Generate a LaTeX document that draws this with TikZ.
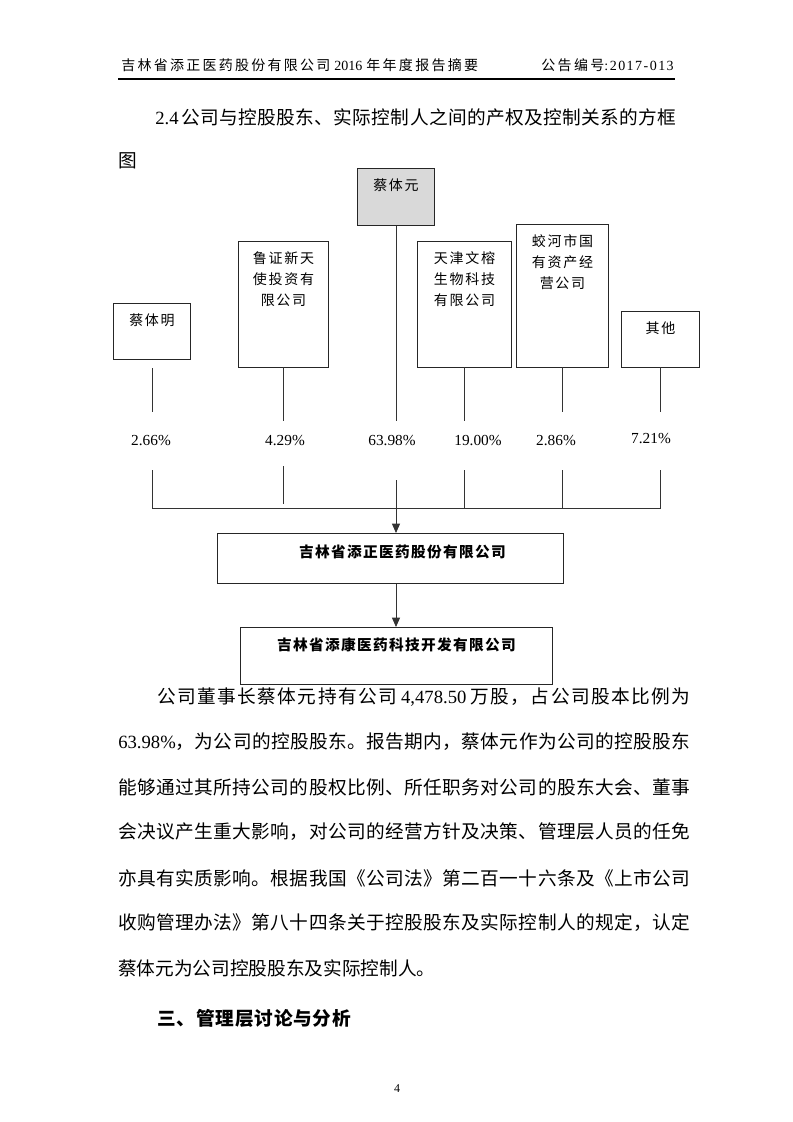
\documentclass[tikz,border=0pt]{standalone}
\usepackage{fontspec}
\setmainfont{Noto Sans CJK SC}
\newfontfamily\lat{Liberation Serif}
\usetikzlibrary{positioning,arrows.meta}

% spacing between CJK characters
\newskip\cgap
\makeatletter
\newcommand{\spc}[1]{\spc@#1\@nil}
\def\spc@#1#2\@nil{#1\if\relax\detokenize{#2}\relax\else\hskip\cgap\spc@#2\@nil\fi}
\makeatother
\newcommand{\jline}[2]{\makebox[#1][s]{\cgap=0pt plus 1fil\relax #2}}
\def\px{0.75pt}

\begin{document}
\begin{tikzpicture}[x=0.75pt,y=-0.75pt,
  holder/.style={draw=black!85, line width=0.75pt, inner sep=0pt, anchor=north west},
  boxtext/.style={inner sep=0pt, align=center, font={\fontsize{10.5}{15.75}\selectfont\cgap=1.3pt}},
  share/.style={inner sep=0pt, font={\lat\fontsize{11.5}{13}\selectfont}},
  firmtext/.style={inner sep=0pt, font={\bfseries\fontsize{11}{13}\selectfont\cgap=1pt}},
  para/.style={anchor=west, inner sep=0pt, font={\fontsize{14}{21}\selectfont\cgap=0.3pt}},
  link/.style={draw=black!80, line width=0.6pt}]
\fill[white] (0,0) rectangle (793,1122);
\useasboundingbox (0,0) rectangle (793,1122);

% header
\node[anchor=west, inner sep=0pt, font={\fontsize{10.5}{12}\selectfont\cgap=1.7pt}] (h_l) at (121,65)
  {\spc{吉林省添正医药股份有限公司}\hspace{3pt}{\lat 2016}\hspace{3pt}\spc{年年度报告摘要}};
\node[anchor=east, inner sep=0pt, font={\fontsize{10.5}{12}\selectfont\cgap=1.8pt}] (h_r) at (674,65)
  {\spc{公告编号}{\lat\cgap=1.1pt\spc{:2017-013}}};
\draw[line width=0.9pt] (118,79) -- (675,79);

\node[para] (t_0) at (155,117) {{\lat 2.4}\hspace{2pt}\spc{公司与控股股东、实际控制人之间的产权及控制关系的方框}};
\node[para] (t_1) at (118,161) {图};

% shareholders
\node[holder, minimum width=77*\px, minimum height=56*\px] (s_1) at (113,303) {};
\node[holder, minimum width=90*\px, minimum height=126*\px] (s_2) at (238,241) {};
\node[holder, minimum width=77*\px, minimum height=57*\px, fill=black!15] (s_3) at (357,168) {};
\node[holder, minimum width=94*\px, minimum height=126*\px] (s_4) at (417,241) {};
\node[holder, minimum width=92*\px, minimum height=143*\px] (s_5) at (516,224) {};
\node[holder, minimum width=78*\px, minimum height=56*\px] (s_6) at (621,311) {};

\node[boxtext, below=8pt of s_1.north] (n_1) {\spc{蔡体明}};
\node[boxtext, below=8pt of s_2.north] (n_2) {\spc{鲁证新天}\\\spc{使投资有}\\\spc{限公司}};
\node[boxtext, below=8pt of s_3.north] (n_3) {\spc{蔡体元}};
\node[boxtext, below=8pt of s_4.north] (n_4) {\spc{天津文榕}\\\spc{生物科技}\\\spc{有限公司}};
\node[boxtext, below=8pt of s_5.north] (n_5) {\spc{蛟河市国}\\\spc{有资产经}\\\spc{营公司}};
\node[boxtext, below=8pt of s_6.north] (n_6) {\spc{其他}};

% shares
\node[share] (p_1) at (151,441) {2.66\%};
\node[share] (p_2) at (285,441) {4.29\%};
\node[share] (p_3) at (392,441) {63.98\%};
\node[share] (p_4) at (478,441) {19.00\%};
\node[share] (p_5) at (556,441) {2.86\%};
\node[share] (p_6) at (651,439) {7.21\%};

% companies
\node[holder, minimum width=346*\px, minimum height=50*\px] (c_0) at (217,533) {};
\node[holder, minimum width=312*\px, minimum height=57*\px] (c_1) at (240,627) {};
\node[firmtext, below=8.5pt of c_0.north, xshift=9pt] (m_0) {\spc{吉林省添正医药股份有限公司}};
\node[firmtext, below=7.8pt of c_1.north] (m_1) {\spc{吉林省添康医药科技开发有限公司}};

\foreach \n/\t/\u/\l/\e in {1/368/412/470/508, 2/367/421/466/504, 4/367/421/470/508,
                            5/367/412/470/508, 6/367/412/470/508}
  {\draw[link] (s_\n.south |- 0,\t) -- (s_\n.south |- 0,\u)
               (s_\n.south |- 0,\l) -- (s_\n.south |- 0,\e);}
\draw[link] (s_3.south) -- (s_3.south |- 0,421);
\draw[link] (s_1.south |- 0,508) -- (s_6.south |- 0,508);
\draw[link, -{Triangle[length=7pt,width=6pt]}] (s_3.south |- 0,480) -- (s_3.south |- c_0.north);
\draw[link, -{Triangle[length=7pt,width=6pt]}] (s_3.south |- c_0.south) -- (s_3.south |- c_1.north);

% text
\node[para] (b_1) at (157,697) {\jline{399.75pt}{\spc{公司董事长蔡体元持有公司}\ {\lat 4,478.50}\ \spc{万股，占公司股本比例为}}};
\node[para] (b_2) at (118,742) {\jline{429pt}{{\lat 63.98\%}\spc{，为公司的控股股东。报告期内，蔡体元作为公司的控股股东}}};
\node[para] (b_3) at (118,787) {\jline{429pt}{\spc{能够通过其所持公司的股权比例、所任职务对公司的股东大会、董事}}};
\node[para] (b_4) at (118,832) {\jline{429pt}{\spc{会决议产生重大影响，对公司的经营方针及决策、管理层人员的任免}}};
\node[para] (b_5) at (118,878) {\jline{429pt}{\spc{亦具有实质影响。根据我国《公司法》第二百一十六条及《上市公司}}};
\node[para] (b_6) at (118,923) {\jline{429pt}{\spc{收购管理办法》第八十四条关于控股股东及实际控制人的规定，认定}}};
\node[para] (b_7) at (118,968) {蔡体元为公司控股股东及实际控制人。};
\node[para, font={\bfseries\fontsize{14}{21}\selectfont\cgap=0.6pt}] (b_8) at (157,1018) {\spc{三、管理层讨论与分析}};

\node[inner sep=0pt, font={\lat\fontsize{9}{10}\selectfont}] (pg) at (397,1089) {4};
\end{tikzpicture}
\end{document}
